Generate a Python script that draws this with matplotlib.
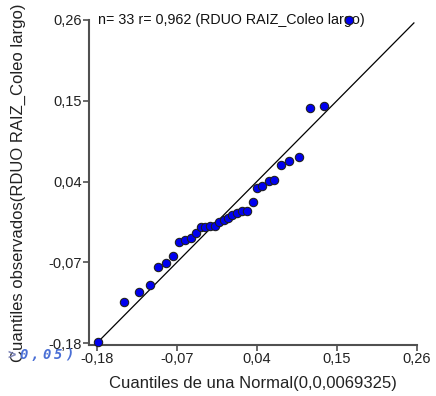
import numpy as np
import matplotlib
matplotlib.use("Agg")
import matplotlib.pyplot as plt
from matplotlib.ticker import FixedLocator, FixedFormatter

plt.rcParams['font.family'] = ['Liberation Sans', 'DejaVu Sans']

x_teo = [-0.1782, -0.1433, -0.1222, -0.1075, -0.0961, -0.0851, -0.0755, -0.0668,
         -0.0590, -0.0511, -0.0435, -0.0363, -0.0311, -0.0242, -0.0177, -0.0126,
         -0.0049, 0.0006, 0.0061, 0.0130, 0.0198, 0.0267, 0.0341, 0.0400,
         0.0473, 0.0565, 0.0641, 0.0737, 0.0845, 0.0978, 0.1125, 0.1326, 0.1666]
y_obs = [-0.1791, -0.1242, -0.1110, -0.1015, -0.0761, -0.0707, -0.0611, -0.0429,
         -0.0390, -0.0370, -0.0299, -0.0224, -0.0224, -0.0209, -0.0211, -0.0149,
         -0.0125, -0.0091, -0.0061, -0.0026, -0.0002, -0.0002, 0.0127, 0.0307,
         0.0345, 0.0403, 0.0420, 0.0627, 0.0683, 0.0737, 0.1397, 0.1432, 0.2600]

ticks = [-0.18, -0.07, 0.04, 0.15, 0.26]
tick_labels = ['-0,18', '-0,07', '0,04', '0,15', '0,26']
ref_line = [-0.18, 0.256]

titulo = 'n= 33 r= 0,962 (RDUO RAIZ_Coleo largo)'
xlab = 'Cuantiles de una Normal(0,0,0069325)'
ylab = 'Cuantiles observados(RDUO RAIZ_Coleo largo)'
resto = '>0,05)'

fig = plt.figure(figsize=(4.36, 3.96), dpi=100)
ax = fig.add_axes([0.204, 0.1288, 0.752, 0.8207])

ax.plot(ref_line, ref_line, color='black', lw=0.9, zorder=2)
ax.text(0.027, 1.0, titulo, transform=ax.transAxes, fontsize=10.3,
        ha='left', va='center', color='#111111', zorder=3)
ax.scatter(x_teo, y_obs, s=36, c='#0000f0', edgecolors='#202020',
           linewidths=0.8, zorder=4, clip_on=False)

ax.set_xlim(-0.191, 0.26)
ax.set_ylim(-0.1827, 0.26)

for a in (ax.xaxis, ax.yaxis):
    a.set_major_locator(FixedLocator(ticks))
    a.set_major_formatter(FixedFormatter(tick_labels))
ax.tick_params(direction='out', length=4, width=1.2, color='#505050',
               labelsize=10.5, labelcolor='#222222', pad=1)

for s in ('top', 'right'):
    ax.spines[s].set_visible(False)
for s in ('left', 'bottom'):
    ax.spines[s].set_color('#505050')
    ax.spines[s].set_linewidth(1.5)

ax.set_xlabel(xlab, fontsize=12, color='#222222', labelpad=7)
ax.set_ylabel(ylab, fontsize=12, color='#222222', labelpad=16)

# leftover fragment of text at the lower left (it overlaps the y label in the original too)
for i, ch in enumerate(resto):
    fig.text((12 + 11.5 * i) / 436, 1 - 355 / 396, ch, fontsize=10,
             family='DejaVu Sans Mono', style='italic', weight='bold',
             color='#4a6fd5' if i else '#7f86b8', ha='center', va='center')

fig.savefig('out.png', dpi=100)
